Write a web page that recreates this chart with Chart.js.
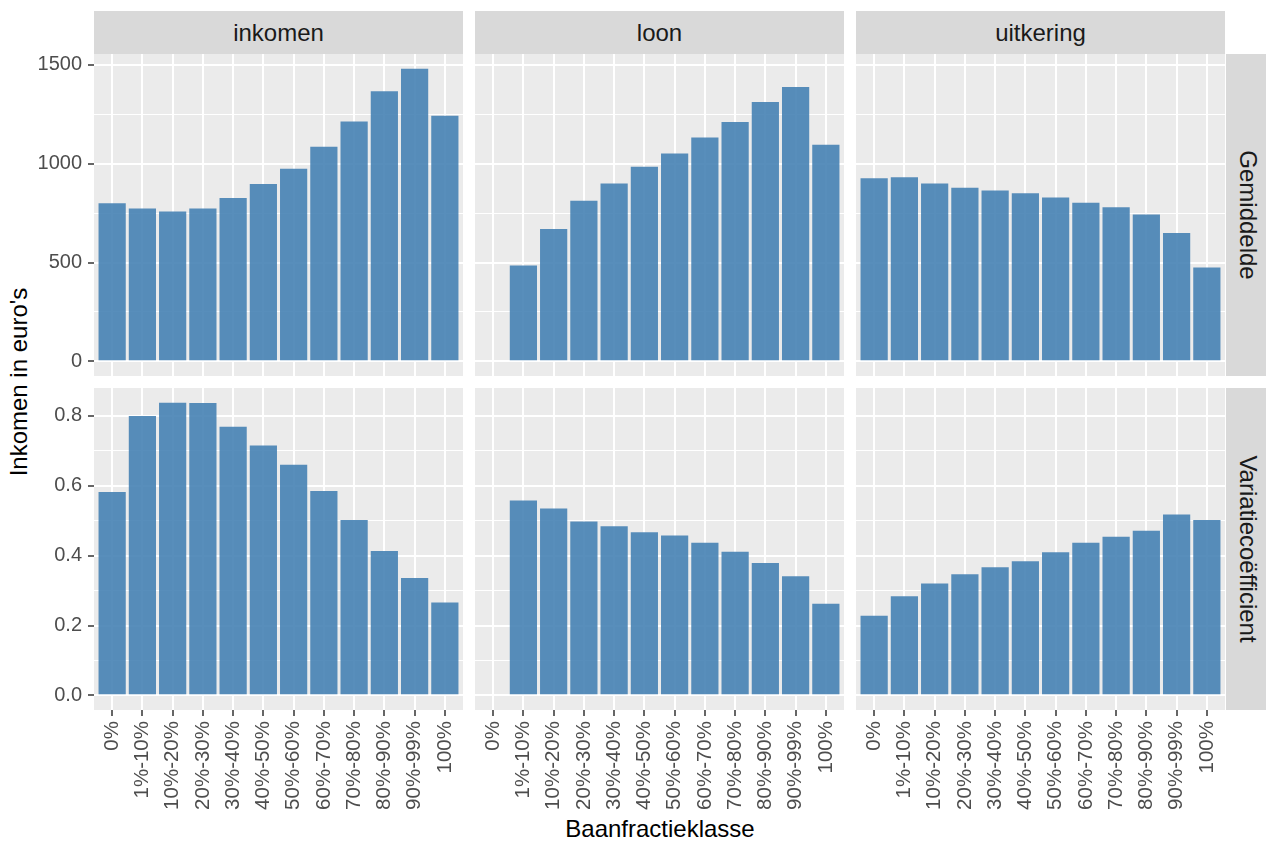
<!DOCTYPE html>
<html>
<head>
<meta charset="utf-8">
<title>Baanfractieklasse</title>
<script src="https://cdn.jsdelivr.net/npm/chart.js@4.4.1/dist/chart.umd.min.js"></script>
<style>
  body { margin: 0; background: #fff; font-family: "Liberation Sans", Arial, sans-serif; }
  #wrap { position: relative; width: 1266px; height: 843px; overflow: hidden; }
  .panel { position: absolute; }
  .strip { position: absolute; background: #D9D9D9; color: #1A1A1A; font-size: 24px;
           display: flex; align-items: center; justify-content: center; white-space: nowrap; }
  .strip .rot { transform: rotate(90deg); }
  .title { position: absolute; color: #000; font-size: 24px; white-space: nowrap; }
</style>
</head>
<body>
<div id="wrap">
  <div class="title" id="ytitle">Inkomen in euro's</div>
  <div class="title" id="xtitle">Baanfractieklasse</div>
</div>

<script>
// data
const categories = ["0%", "1%-10%", "10%-20%", "20%-30%", "30%-40%", "40%-50%",
  "50%-60%", "60%-70%", "70%-80%", "80%-90%", "90%-99%", "100%"];
const columns = ["inkomen", "loon", "uitkering"];
const rows = ["Gemiddelde", "Variatiecoëfficient"];

const inkomenMean = [800, 774, 758, 774, 826, 897, 975, 1086, 1214, 1366, 1481, 1243];
const loonMean = [null, 485, 670, 812, 900, 985, 1052, 1132, 1211, 1312, 1388, 1096];
const uitkeringMean = [927, 931, 900, 878, 865, 850, 829, 802, 780, 743, 649, 475];

const inkomenCv = [0.582, 0.800, 0.838, 0.837, 0.769, 0.715, 0.660, 0.585, 0.502, 0.413, 0.336, 0.266];
const loonCv = [null, 0.558, 0.535, 0.498, 0.484, 0.467, 0.458, 0.437, 0.411, 0.379, 0.341, 0.262];
const uitkeringCv = [0.228, 0.284, 0.320, 0.347, 0.367, 0.384, 0.410, 0.437, 0.454, 0.471, 0.518, 0.502];

const meanTicks = ["0", "500", "1000", "1500"];
const cvTicks = ["0.0", "0.2", "0.4", "0.6", "0.8"];

// layout of the facet grid
const colLeft = [94, 475, 856];
const rowTop = [54, 388];
const panelW = 369;
const panelH = 322;
const yAxisW = 94;
const xAxisH = 110;
const font = "'Liberation Sans', Arial, sans-serif";

const wrap = document.getElementById("wrap");

const panelBg = {
  id: "panelBg",
  beforeDraw(chart) {
    const { ctx, chartArea: a } = chart;
    ctx.save();
    ctx.fillStyle = "#EBEBEB";
    ctx.fillRect(a.left, a.top, a.right - a.left, a.bottom - a.top);
    ctx.restore();
  }
};

function rowRange(series) {
  const top = Math.max(...series.flat().filter(v => v !== null));
  return { min: -0.05 * top, max: top * 1.05 };
}

// keep only ticks that sit on the step, and no padding for overflowing labels
function onStep(step) {
  return s => {
    s.ticks = s.ticks.filter(t => Math.abs(t.value / step - Math.round(t.value / step)) < 1e-6);
  };
}
function fitTo(size, key) {
  return s => {
    s[key] = size;
    s.paddingLeft = s.paddingRight = s.paddingTop = s.paddingBottom = 0;
  };
}

function makePanel(col, row, values, range, step, isMajor, tickText) {
  const left = colLeft[col] - (col === 0 ? yAxisW : 0);
  const w = panelW + (col === 0 ? yAxisW : 0);
  const h = panelH + (row === 1 ? xAxisH : 0);

  const div = document.createElement("div");
  div.className = "panel";
  div.style.left = left + "px";
  div.style.top = rowTop[row] + "px";
  div.style.width = w + "px";
  div.style.height = h + "px";
  const canvas = document.createElement("canvas");
  canvas.width = w;
  canvas.height = h;
  div.appendChild(canvas);
  wrap.appendChild(div);

  new Chart(canvas, {
    type: "bar",
    data: {
      datasets: [{
        data: values.map((v, i) => ({ x: i, y: v })),
        backgroundColor: "rgba(70,130,180,0.9)",
        borderWidth: 0,
        barPercentage: 0.9,
        categoryPercentage: 1
      }]
    },
    options: {
      responsive: false,
      animation: false,
      devicePixelRatio: 1,
      layout: { padding: 0 },
      plugins: { legend: { display: false }, tooltip: { enabled: false } },
      scales: {
        x: {
          type: "linear",
          min: -0.6,
          max: 11.6,
          offset: false,
          ticks: {
            display: row === 1,
            stepSize: 1,
            includeBounds: false,
            autoSkip: false,
            minRotation: 90,
            maxRotation: 90,
            padding: 5,
            color: "#4D4D4D",
            font: { family: font, size: 20.5 },
            callback: v => categories[Math.round(v)]
          },
          grid: {
            offset: false,
            color: "#FFFFFF",
            lineWidth: 2,
            drawTicks: row === 1,
            tickLength: 6,
            tickColor: "#333333",
            tickWidth: 1.5
          },
          border: { display: false },
          afterBuildTicks: onStep(1),
          afterFit: fitTo(row === 1 ? xAxisH : 0, "height")
        },
        y: {
          min: range.min,
          max: range.max,
          ticks: {
            display: col === 0,
            stepSize: step,
            includeBounds: false,
            padding: 6,
            color: "#4D4D4D",
            font: { family: font, size: 20 },
            callback: v => isMajor(v) ? tickText(v) : ""
          },
          grid: {
            color: "#FFFFFF",
            lineWidth: ctx => isMajor(ctx.tick.value) ? 2 : 1,
            drawTicks: col === 0,
            tickLength: 6,
            tickColor: ctx => isMajor(ctx.tick.value) ? "#333333" : "rgba(0,0,0,0)",
            tickWidth: 1.5
          },
          border: { display: false },
          afterBuildTicks: onStep(step),
          afterFit: fitTo(col === 0 ? yAxisW : 0, "width")
        }
      }
    },
    plugins: [panelBg]
  });
}

const meanRange = rowRange([inkomenMean, loonMean, uitkeringMean]);
const cvRange = rowRange([inkomenCv, loonCv, uitkeringCv]);

const meanMajor = v => Math.round(v) % 500 === 0;
const meanText = v => meanTicks[Math.round(v / 500)];
const cvMajor = v => Math.round(v * 10) % 2 === 0;
const cvText = v => cvTicks[Math.round(v * 5)];

[inkomenMean, loonMean, uitkeringMean].forEach((vals, c) =>
  makePanel(c, 0, vals, meanRange, 250, meanMajor, meanText));
[inkomenCv, loonCv, uitkeringCv].forEach((vals, c) =>
  makePanel(c, 1, vals, cvRange, 0.1, cvMajor, cvText));

// strips
columns.forEach((name, c) => {
  const s = document.createElement("div");
  s.className = "strip";
  Object.assign(s.style, { left: colLeft[c] + "px", top: "11px", width: panelW + "px", height: "43px" });
  s.textContent = name;
  wrap.appendChild(s);
});
rows.forEach((name, r) => {
  const s = document.createElement("div");
  s.className = "strip";
  Object.assign(s.style, { left: "1226px", top: rowTop[r] + "px", width: "43px", height: panelH + "px" });
  const t = document.createElement("span");
  t.className = "rot";
  t.textContent = name;
  s.appendChild(t);
  wrap.appendChild(s);
});

// axis titles
const yt = document.getElementById("ytitle");
yt.style.left = "19px";
yt.style.top = "382px";
yt.style.transform = "translate(-50%, -50%) rotate(-90deg)";
const xt = document.getElementById("xtitle");
xt.style.left = "660px";
xt.style.top = "829px";
xt.style.transform = "translate(-50%, -50%)";
</script>
</body>
</html>
